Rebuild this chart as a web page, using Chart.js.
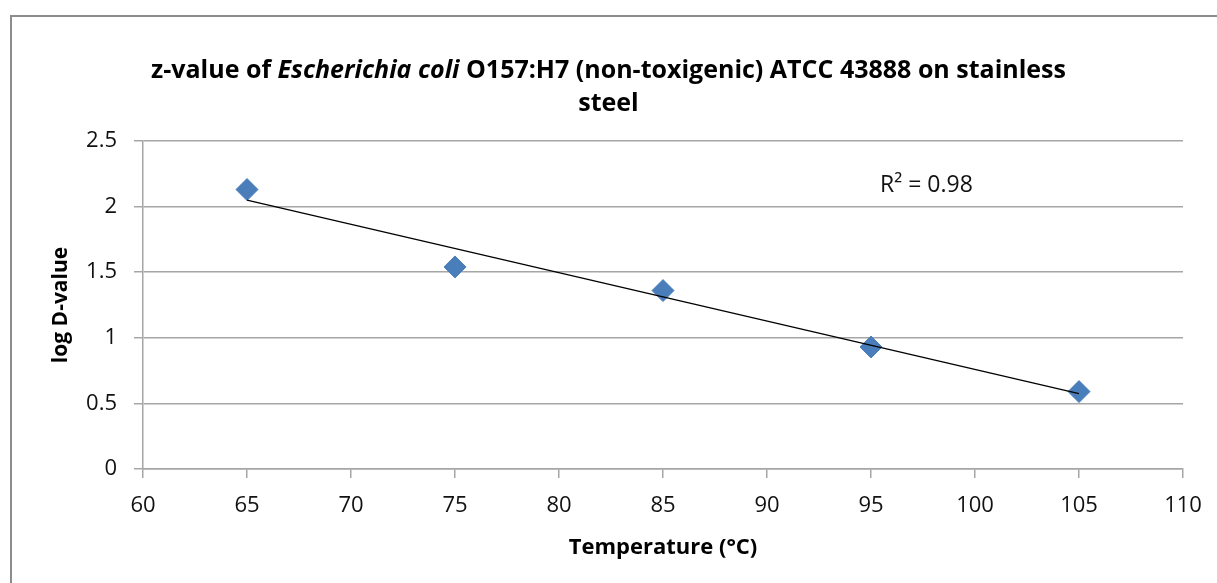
<!DOCTYPE html>
<html>
<head>
<meta charset="utf-8">
<script src="https://cdn.jsdelivr.net/npm/chart.js@4.4.1/dist/chart.umd.min.js"></script>
<style>
  html, body { margin: 0; padding: 0; background: #fff; overflow: hidden; }
  #wrap { position: absolute; left: 0; top: 0; width: 1217px; height: 583px; }
  #frame { position: absolute; left: 10px; top: 15px; width: 1400px; height: 800px;
           border: 2px solid #8c8c8c; box-sizing: border-box; pointer-events: none; }
</style>
</head>
<body>
<div id="wrap"><canvas id="c" width="1217" height="583"></canvas></div>
<div id="frame"></div>
<script>
// ---- data ----
const temperatures = [65, 75, 85, 95, 105];
const logDValues   = [2.13, 1.54, 1.36, 0.93, 0.59];
const trendX = [65, 105];
const trendY = [2.05, 0.575];
const xTicksRange = [60, 110, 5];   // min, max, step
const yTicksRange = [0, 2.5, 0.5];
const titleLine1 = [
  { text: "z-value of ", italic: false },
  { text: "Escherichia coli", italic: true },
  { text: " O157:H7 (non-toxigenic) ATCC 43888 on stainless", italic: false }
];
const titleLine2 = "steel";
const xAxisTitle = "Temperature (°C)";
const yAxisTitle = "log D-value";
const rSquaredLabel = "R² = 0.98";

const FONT = "'Open Sans', 'DejaVu Sans', sans-serif";
const GRID = "#a6a6a6";

const titlePlugin = {
  id: 'mixedTitle',
  afterDraw(chart) {
    const ctx = chart.ctx;
    ctx.save();
    ctx.fillStyle = '#000';
    ctx.textBaseline = 'alphabetic';
    const size = 25;
    const fontFor = (it) => (it ? 'italic ' : '') + 'bold ' + size + 'px ' + FONT;
    let total = 0;
    titleLine1.forEach(s => { ctx.font = fontFor(s.italic); total += ctx.measureText(s.text).width; });
    let x = chart.width / 2 - total / 2;
    ctx.textAlign = 'left';
    titleLine1.forEach(s => {
      ctx.font = fontFor(s.italic);
      ctx.fillText(s.text, x, 78);
      x += ctx.measureText(s.text).width;
    });
    ctx.font = fontFor(false);
    ctx.textAlign = 'center';
    ctx.fillText(titleLine2, chart.width / 2, 111);

    // R² annotation
    const ca = chart.chartArea;
    ctx.font = '23px ' + FONT;
    ctx.textAlign = 'left';
    ctx.fillStyle = '#111';
    ctx.fillText(rSquaredLabel, ca.left + 737, 192);
    ctx.restore();
  }
};

new Chart(document.getElementById('c'), {
  type: 'scatter',
  data: {
    datasets: [
      {
        type: 'line',
        label: 'trend',
        data: trendX.map((x, i) => ({ x, y: trendY[i] })),
        borderColor: '#000',
        borderWidth: 1.3,
        pointRadius: 0,
        fill: false
      },
      {
        label: 'log D',
        data: temperatures.map((x, i) => ({ x, y: logDValues[i] })),
        pointStyle: 'rectRot',
        pointRadius: 11,
        backgroundColor: '#4a7ebb',
        borderColor: '#4a7ebb',
        borderWidth: 1
      }
    ]
  },
  plugins: [titlePlugin],
  options: {
    responsive: false,
    animation: false,
    devicePixelRatio: 1,
    layout: { padding: { top: 141, right: 34, left: 0, bottom: 0 } },
    plugins: { legend: { display: false }, tooltip: { enabled: false }, title: { display: false } },
    scales: {
      x: {
        type: 'linear',
        min: xTicksRange[0], max: xTicksRange[1],
        ticks: { stepSize: xTicksRange[2], color: '#111', font: { family: FONT, size: 22 }, padding: 15, maxRotation: 0 },
        grid: { display: true, drawOnChartArea: false, drawTicks: true, tickLength: 9, color: GRID, lineWidth: 1.5 },
        border: { display: true, color: GRID, width: 1.5 },
        title: { display: true, text: xAxisTitle, color: '#000', font: { family: FONT, size: 22, weight: 'bold' }, padding: { top: 0, bottom: 22 } },
        afterFit(scale) { scale.height = 114; }
      },
      y: {
        type: 'linear',
        min: yTicksRange[0], max: yTicksRange[1],
        ticks: { stepSize: yTicksRange[2], color: '#111', font: { family: FONT, size: 22 }, padding: 17,
                 callback: (v) => String(Number(v.toFixed(2))) },
        grid: { display: true, drawOnChartArea: true, drawTicks: true, tickLength: 9, color: GRID, lineWidth: 1.5 },
        border: { display: true, color: GRID, width: 1.5 },
        title: { display: true, text: yAxisTitle, color: '#000', font: { family: FONT, size: 21, weight: 'bold' }, padding: { top: 48, bottom: 0 } },
        afterFit(scale) { scale.width = 143; }
      }
    }
  }
});
</script>
</body>
</html>
